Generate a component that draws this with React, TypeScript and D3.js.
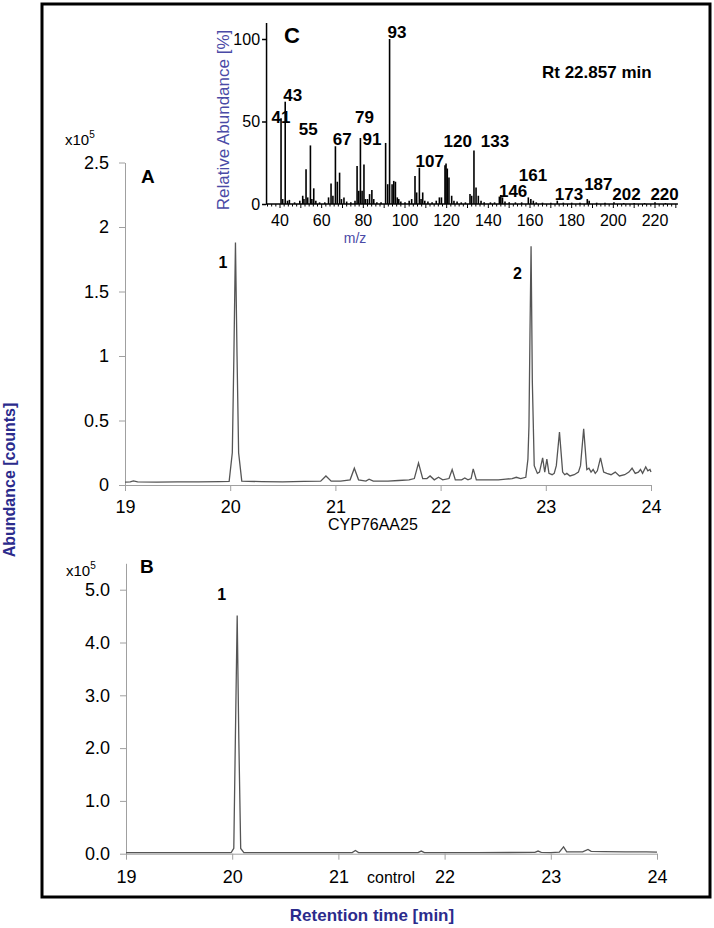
import React, { useEffect, useRef } from 'react'
import * as d3 from 'd3'

// retention time ticks (min)
const rtTicks = [19, 20, 21, 22, 23, 24]
const aTicks = [0, 0.5, 1, 1.5, 2, 2.5]
const bTicks = [0, 1, 2, 3, 4, 5]
const msXTicks = [40, 60, 80, 100, 120, 140, 160, 180, 200, 220]
const msYTicks = [0, 50, 100]

// CYP76AA25 trace: [rt, abundance x10^5]
const traceA: [number, number][] = [
  [19.0, 0.022], [19.05, 0.025], [19.08, 0.032], [19.12, 0.024], [19.3, 0.023], [19.5, 0.025],
  [19.7, 0.024], [19.9, 0.026], [19.99, 0.028], [20.02, 0.25], [20.035, 1.0], [20.05, 1.88],
  [20.065, 1.0], [20.08, 0.25], [20.11, 0.03], [20.3, 0.026], [20.5, 0.025], [20.7, 0.028],
  [20.86, 0.03], [20.91, 0.07], [20.96, 0.03], [21.05, 0.03], [21.14, 0.04], [21.18, 0.13],
  [21.22, 0.04], [21.29, 0.03], [21.32, 0.045], [21.36, 0.03], [21.5, 0.03], [21.6, 0.035],
  [21.7, 0.04], [21.75, 0.05], [21.79, 0.17], [21.83, 0.05], [21.87, 0.05], [21.9, 0.07],
  [21.94, 0.04], [21.98, 0.06], [22.02, 0.04], [22.08, 0.05], [22.11, 0.12], [22.14, 0.04],
  [22.2, 0.04], [22.23, 0.055], [22.26, 0.04], [22.29, 0.05], [22.31, 0.125], [22.34, 0.04],
  [22.45, 0.04], [22.55, 0.04], [22.62, 0.045], [22.68, 0.05], [22.72, 0.06], [22.76, 0.05],
  [22.81, 0.06], [22.83, 0.2], [22.84, 0.46], [22.85, 1.2], [22.86, 1.85], [22.872, 0.8],
  [22.89, 0.15], [22.92, 0.09], [22.94, 0.1], [22.97, 0.21], [22.99, 0.1], [23.01, 0.2],
  [23.03, 0.09], [23.06, 0.08], [23.08, 0.09], [23.1, 0.15], [23.13, 0.41], [23.16, 0.1],
  [23.18, 0.08], [23.2, 0.09], [23.23, 0.07], [23.27, 0.08], [23.31, 0.1], [23.33, 0.15],
  [23.36, 0.435], [23.39, 0.12], [23.41, 0.13], [23.43, 0.1], [23.45, 0.12], [23.47, 0.09],
  [23.49, 0.11], [23.52, 0.21], [23.55, 0.1], [23.58, 0.09], [23.62, 0.08], [23.66, 0.1],
  [23.7, 0.07], [23.75, 0.08], [23.79, 0.1], [23.82, 0.13], [23.85, 0.09], [23.88, 0.1],
  [23.9, 0.12], [23.92, 0.09], [23.95, 0.14], [23.97, 0.11], [23.99, 0.12], [24.0, 0.1]
]

// control trace
const traceB: [number, number][] = [
  [19.0, 0.02], [19.5, 0.02], [19.99, 0.02], [20.015, 0.1], [20.03, 2.2], [20.047, 4.51],
  [20.062, 2.2], [20.08, 0.1], [20.11, 0.02], [20.5, 0.02], [21.0, 0.02], [21.13, 0.02],
  [21.16, 0.06], [21.19, 0.02], [21.5, 0.02], [21.75, 0.02], [21.78, 0.05], [21.81, 0.02],
  [22.3, 0.02], [22.85, 0.025], [22.88, 0.05], [22.91, 0.025], [23.0, 0.02], [23.08, 0.03],
  [23.12, 0.13], [23.15, 0.035], [23.3, 0.035], [23.35, 0.08], [23.38, 0.045], [23.5, 0.04],
  [23.7, 0.035], [23.9, 0.035], [24.0, 0.03]
]

// mass spectrum at Rt 22.857: [m/z position, relative abundance %]
const msBars: [number, number][] = [
  [40.5, 52], [41.3, 3], [42.5, 62], [43.6, 2], [44.5, 2.5], [47, 1], [49.5, 2], [50.9, 5],
  [51.5, 3], [52.5, 21], [53.3, 4], [54.6, 35.5], [55.3, 3], [56.2, 9.5], [57.2, 2], [59, 1],
  [61.5, 1], [63.3, 4], [64.5, 12.5], [65.4, 5], [66.6, 35], [67.5, 13.5], [68.6, 19], [69.5, 3],
  [70.7, 4], [72, 1.5], [74, 1], [76, 2], [77, 23], [77.8, 8], [78.6, 40], [79.4, 8], [80.3, 24],
  [81, 3], [82, 3], [83, 6], [84.1, 8.5], [85, 3], [86.5, 1], [88.5, 1], [90.7, 37], [91.7, 12],
  [92.6, 100], [93.8, 12], [94.6, 14], [95.4, 13.5], [96.3, 4], [97, 3], [98, 1.5], [100, 1],
  [102, 2], [103.2, 3], [104.8, 17], [105.6, 7], [106.9, 22], [107.7, 3], [108.5, 7], [109.5, 2],
  [111, 1.5], [113, 1], [115, 2], [116.5, 4], [117.5, 4], [119.2, 23.5], [119.7, 24.5],
  [120.3, 21.5], [121.1, 16], [122.4, 5], [123.5, 2], [125, 1.5], [127, 1], [129, 1], [131.2, 6],
  [132, 5], [133.1, 32.5], [134.1, 10], [135.2, 5], [136.5, 2], [138, 1], [141, 1], [143, 1],
  [145.3, 4.5], [146, 5.5], [146.8, 4], [148, 1.5], [150, 1], [153, 1], [156, 1], [159.2, 4],
  [160.4, 3], [161.6, 2], [163, 1], [166, 0.8], [170, 0.8], [173.1, 2], [176, 0.8], [180, 0.8],
  [184, 0.8], [187.5, 3], [188.4, 2], [192, 0.8], [196, 0.8], [200.3, 1], [205, 0.6], [210, 0.6],
  [215, 0.6], [220, 1], [225, 0.6]
]

// ion labels: [text, m/z position, abundance % at baseline]
const msLabels: [string, number, number][] = [
  ['41', 40.5, 49], ['43', 46.1, 62.6], ['55', 53.6, 41.8], ['67', 69.9, 35.8], ['79', 80.6, 49.3],
  ['91', 84.2, 35.8], ['93', 96.2, 100.4], ['107', 111.9, 22.6], ['120', 125.3, 34.7],
  ['133', 143.2, 34.7], ['146', 151.9, 4.4], ['161', 161.4, 13.9], ['173', 178.7, 2.4],
  ['187', 192.8, 8.5], ['202', 206.3, 2.4], ['220', 224.6, 2.4]
]

// peak numbers: [text, rt, abundance]
const peakLabelsA: [string, number, number][] = [['1', 19.93, 1.68], ['2', 22.73, 1.6]]
const peakLabelsB: [string, number, number][] = [['1', 19.9, 4.8]]

const FONT = 'Liberation Sans, Arial, sans-serif'
const NAVY = '#2b2b8c'

const App = () => {
  const ref = useRef<SVGSVGElement>(null)

  function drawChart() {
    const svg = d3.select(ref.current)
    svg.selectAll('*').remove()

    // outer frame
    svg.append('rect')
      .attr('x', 42).attr('y', 4).attr('width', 668).attr('height', 893)
      .attr('fill', 'none').attr('stroke', '#000').attr('stroke-width', 3)

    // chromatogram panel
    const panel = (
      trace: [number, number][], xr: [number, number], ydom: [number, number], yr: [number, number],
      yt: number[], fmt: (d: number) => string, xPad: number, labels: [string, number, number][]
    ) => {
      const x = d3.scaleLinear().domain([19, 24]).range(xr)
      const y = d3.scaleLinear().domain(ydom).range(yr)
      const g = svg.append('g')
      const gy = g.append('g').attr('transform', `translate(${xr[0]},0)`)
        .call(d3.axisLeft(y).tickValues(yt).tickFormat(fmt as any).tickSize(6).tickSizeOuter(0).tickPadding(10))
      const gx = g.append('g').attr('transform', `translate(0,${yr[0]})`)
        .call(d3.axisBottom(x).tickValues(rtTicks).tickFormat(d3.format('d') as any).tickSize(6).tickSizeOuter(0).tickPadding(xPad))
      ;[gx, gy].forEach((a) => {
        a.selectAll('path,line').attr('stroke', '#a0a0a0')
        a.selectAll('text').attr('font-size', 18).attr('font-family', FONT).attr('fill', '#000')
      })
      g.append('path').datum(trace)
        .attr('d', d3.line<[number, number]>().x((d) => x(d[0])).y((d) => y(d[1])))
        .attr('fill', 'none').attr('stroke', '#555').attr('stroke-width', 1.3)
      g.selectAll('.pk').data(labels).enter().append('text')
        .attr('x', (d) => x(d[1])).attr('y', (d) => y(d[2]))
        .attr('text-anchor', 'middle').attr('font-weight', 'bold').attr('font-size', 16)
        .attr('font-family', FONT).text((d) => d[0])
    }

    panel(traceA, [125, 651], [0, 2.5], [485, 162.5], aTicks, d3.format('') as any, 9, peakLabelsA)
    panel(traceB, [126, 657], [0, 5.5], [853.7, 563.3], bTicks, d3.format('.1f'), 11, peakLabelsB)

    // panel texts
    const txt = (s: string, x: number, y: number, size: number, opts: any = {}) =>
      svg.append('text').attr('x', x).attr('y', y).attr('font-size', size).attr('font-family', FONT)
        .attr('font-weight', opts.bold ? 'bold' : 'normal').attr('fill', opts.fill || '#000')
        .attr('text-anchor', opts.anchor || 'start').text(s)

    const exp = (x: number, y: number) => {
      const t = txt('x10', x, y, 15)
      t.append('tspan').attr('font-size', 10).attr('dy', -7).text('5')
    }
    exp(65, 145)
    exp(66, 576)
    txt('A', 141, 183, 19, { bold: true })
    txt('B', 140, 573, 19, { bold: true })
    txt('CYP76AA25', 328, 530, 16)
    txt('control', 367, 883, 16)
    txt('Retention time [min]', 372, 921, 17, { bold: true, fill: NAVY, anchor: 'middle' })
    svg.append('text')
      .attr('transform', 'translate(15,480) rotate(-90)')
      .attr('text-anchor', 'middle').attr('font-size', 16).attr('font-weight', 'bold')
      .attr('font-family', FONT).attr('fill', NAVY).text('Abundance  [counts]')

    // inset mass spectrum C
    const mx = d3.scaleLinear().domain([40, 220]).range([280, 655])
    const my = d3.scaleLinear().domain([0, 110]).range([204, 22.5])
    const ins = svg.append('g')
    ins.selectAll('.bar').data(msBars).enter().append('line')
      .attr('x1', (d) => mx(d[0])).attr('x2', (d) => mx(d[0]))
      .attr('y1', my(0)).attr('y2', (d) => my(d[1]))
      .attr('stroke', '#000').attr('stroke-width', 1.6)
    const iy = ins.append('g').attr('transform', `translate(${mx(33.3)},0)`)
      .call(d3.axisLeft(my).tickValues(msYTicks).tickSize(4).tickSizeOuter(0).tickPadding(2))
    iy.selectAll('path,line').attr('stroke', '#000').attr('stroke-width', 1.5)
    iy.selectAll('text').attr('font-size', 16).attr('font-family', FONT)
    // m/z axis with minor ticks
    ins.append('line').attr('x1', mx(33.3)).attr('x2', mx(231)).attr('y1', my(0)).attr('y2', my(0))
      .attr('stroke', '#000').attr('stroke-width', 1.5)
    ins.selectAll('.mt').data(d3.range(34, 231, 2)).enter().append('line')
      .attr('x1', (d) => mx(d)).attr('x2', (d) => mx(d))
      .attr('y1', my(0)).attr('y2', (d) => my(0) + (d % 10 === 0 ? 4 : 2.5))
      .attr('stroke', '#000').attr('stroke-width', 1)
    ins.selectAll('.mxl').data(msXTicks).enter().append('text')
      .attr('x', (d) => mx(d)).attr('y', 226).attr('text-anchor', 'middle')
      .attr('font-size', 16).attr('font-family', FONT).text((d) => d)
    ins.selectAll('.ml').data(msLabels).enter().append('text')
      .attr('x', (d) => mx(d[1])).attr('y', (d) => my(d[2])).attr('text-anchor', 'middle')
      .attr('font-size', 17).attr('font-weight', 'bold').attr('font-family', FONT).text((d) => d[0])
    txt('C', 284, 43, 22, { bold: true })
    txt('Rt 22.857 min', 542, 78, 17, { bold: true })
    txt('m/z', 355, 243, 14, { fill: '#4a4aa6', anchor: 'middle' })
    svg.append('text')
      .attr('transform', 'translate(229,120) rotate(-90)')
      .attr('text-anchor', 'middle').attr('font-size', 17)
      .attr('font-family', FONT).attr('fill', '#4a4aa6').text('Relative Abundance [%]')
  }

  useEffect(() => {
    drawChart()
  }, [])

  return (
    <svg ref={ref} width={714} height={928} style={{ position: 'absolute', left: 0, top: 0, background: '#fff' }} />
  )
}
export default App
